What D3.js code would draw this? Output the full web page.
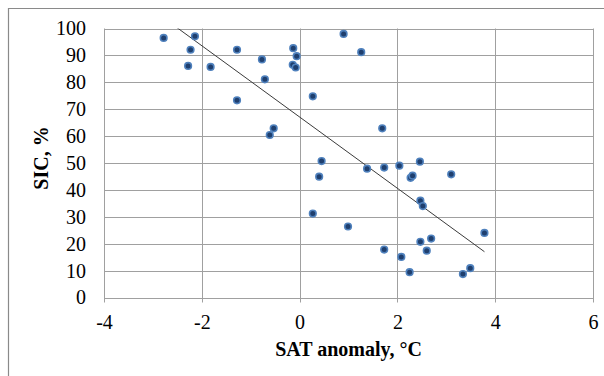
<!DOCTYPE html>
<html><head><meta charset="utf-8">
<script src="https://cdn.jsdelivr.net/npm/d3@7"></script>
<style>body{margin:0;background:#fff}svg{display:block}</style>
</head><body><svg id="c" width="604" height="376"></svg>
<script>
const satAnomaly = [-2.78,-2.14,-2.23,-2.28,-1.82,-1.28,-1.28,-0.77,-0.71,-0.61,-0.53,-0.13,-0.06,-0.14,-0.08,0.27,
  0.90,1.26,1.69,0.45,0.40,1.38,1.73,2.04,2.46,2.27,2.31,3.10,
  2.47,2.52,0.27,0.99,3.78,2.47,2.69,1.73,2.60,2.08,2.25,3.34,3.49];
const sic = [96.5,97.1,92.1,86.1,85.7,92.1,73.3,88.5,81.1,60.4,62.9,92.7,89.7,86.5,85.5,74.8,
  98.0,91.2,62.9,50.7,44.9,47.9,48.3,49.0,50.5,44.5,45.3,45.8,
  36.0,34.0,31.2,26.4,24.0,20.7,21.9,17.8,17.4,15.1,9.4,8.7,10.9];
const xTicks = [-4,-2,0,2,4,6];
const yTicks = [0,10,20,30,40,50,60,70,80,90,100];
const trendSlope = -13.25, trendIntercept = 67.1;
const xTitle = "SAT anomaly, °C", yTitle = "SIC, %";

const svg = d3.select("#c");
const L=104, R=593, T=28.5, B=297.5;
const x = d3.scaleLinear().domain([-4,6]).range([L,R]);
const y = d3.scaleLinear().domain([0,100]).range([B,T]);
const font = "'Liberation Serif','Times New Roman',serif";

// outer frame
svg.append("path").attr("d","M8.5,376 V8.5 H604").attr("fill","none").attr("stroke","#8a8a8a").attr("stroke-width",1.2);

// grid
const g = svg.append("g");
g.selectAll("line.h").data(yTicks).join("line")
  .attr("x1",L).attr("x2",R).attr("y1",d=>Math.round(y(d))+0.5).attr("y2",d=>Math.round(y(d))+0.5)
  .attr("stroke","#a0a0a0").attr("stroke-width",1);
g.selectAll("line.v").data(xTicks).join("line")
  .attr("y1",T).attr("y2",B+5).attr("x1",d=>Math.round(x(d))+0.5).attr("x2",d=>Math.round(x(d))+0.5)
  .attr("stroke","#a0a0a0").attr("stroke-width",1);

// axes labels via d3 axes (no domain/ticks lines)
const ax = svg.append("g").attr("transform",`translate(0,${B})`)
  .call(d3.axisBottom(x).tickValues(xTicks).tickSize(0).tickPadding(17).tickFormat(d=>String(d)));
ax.select(".domain").remove();
ax.selectAll("text").attr("font-family",font).attr("font-size",20).attr("fill","#000");
const ay = svg.append("g").attr("transform",`translate(${L},0)`)
  .call(d3.axisLeft(y).tickValues(yTicks).tickSize(0).tickPadding(18).tickFormat(d=>String(d)));
ay.select(".domain").remove();
ay.selectAll("text").attr("font-family",font).attr("font-size",20).attr("fill","#000");

// trendline
svg.append("clipPath").attr("id","pc").append("rect").attr("x",L).attr("y",T).attr("width",R-L).attr("height",B-T);
const xmin=d3.min(satAnomaly), xmax=d3.max(satAnomaly);
svg.append("line").attr("clip-path","url(#pc)")
  .attr("x1",x(xmin)).attr("y1",y(trendSlope*xmin+trendIntercept))
  .attr("x2",x(xmax)).attr("y2",y(trendSlope*xmax+trendIntercept))
  .attr("stroke","#3a3a3a").attr("stroke-width",1);

// points
svg.append("g").selectAll("circle").data(satAnomaly).join("circle")
  .attr("cx",d=>x(d)).attr("cy",(d,i)=>y(sic[i])).attr("r",3.3)
  .attr("fill","#1f3f6e").attr("stroke","#4f81bd").attr("stroke-width",1.6);

// titles
svg.append("text").attr("x",348.5).attr("y",356).attr("text-anchor","middle")
  .attr("font-family",font).attr("font-weight","bold").attr("font-size",20).text(xTitle);
svg.append("text").attr("transform","translate(48,158) rotate(-90)").attr("text-anchor","middle")
  .attr("font-family",font).attr("font-weight","bold").attr("font-size",20).text(yTitle);
</script></body></html>
